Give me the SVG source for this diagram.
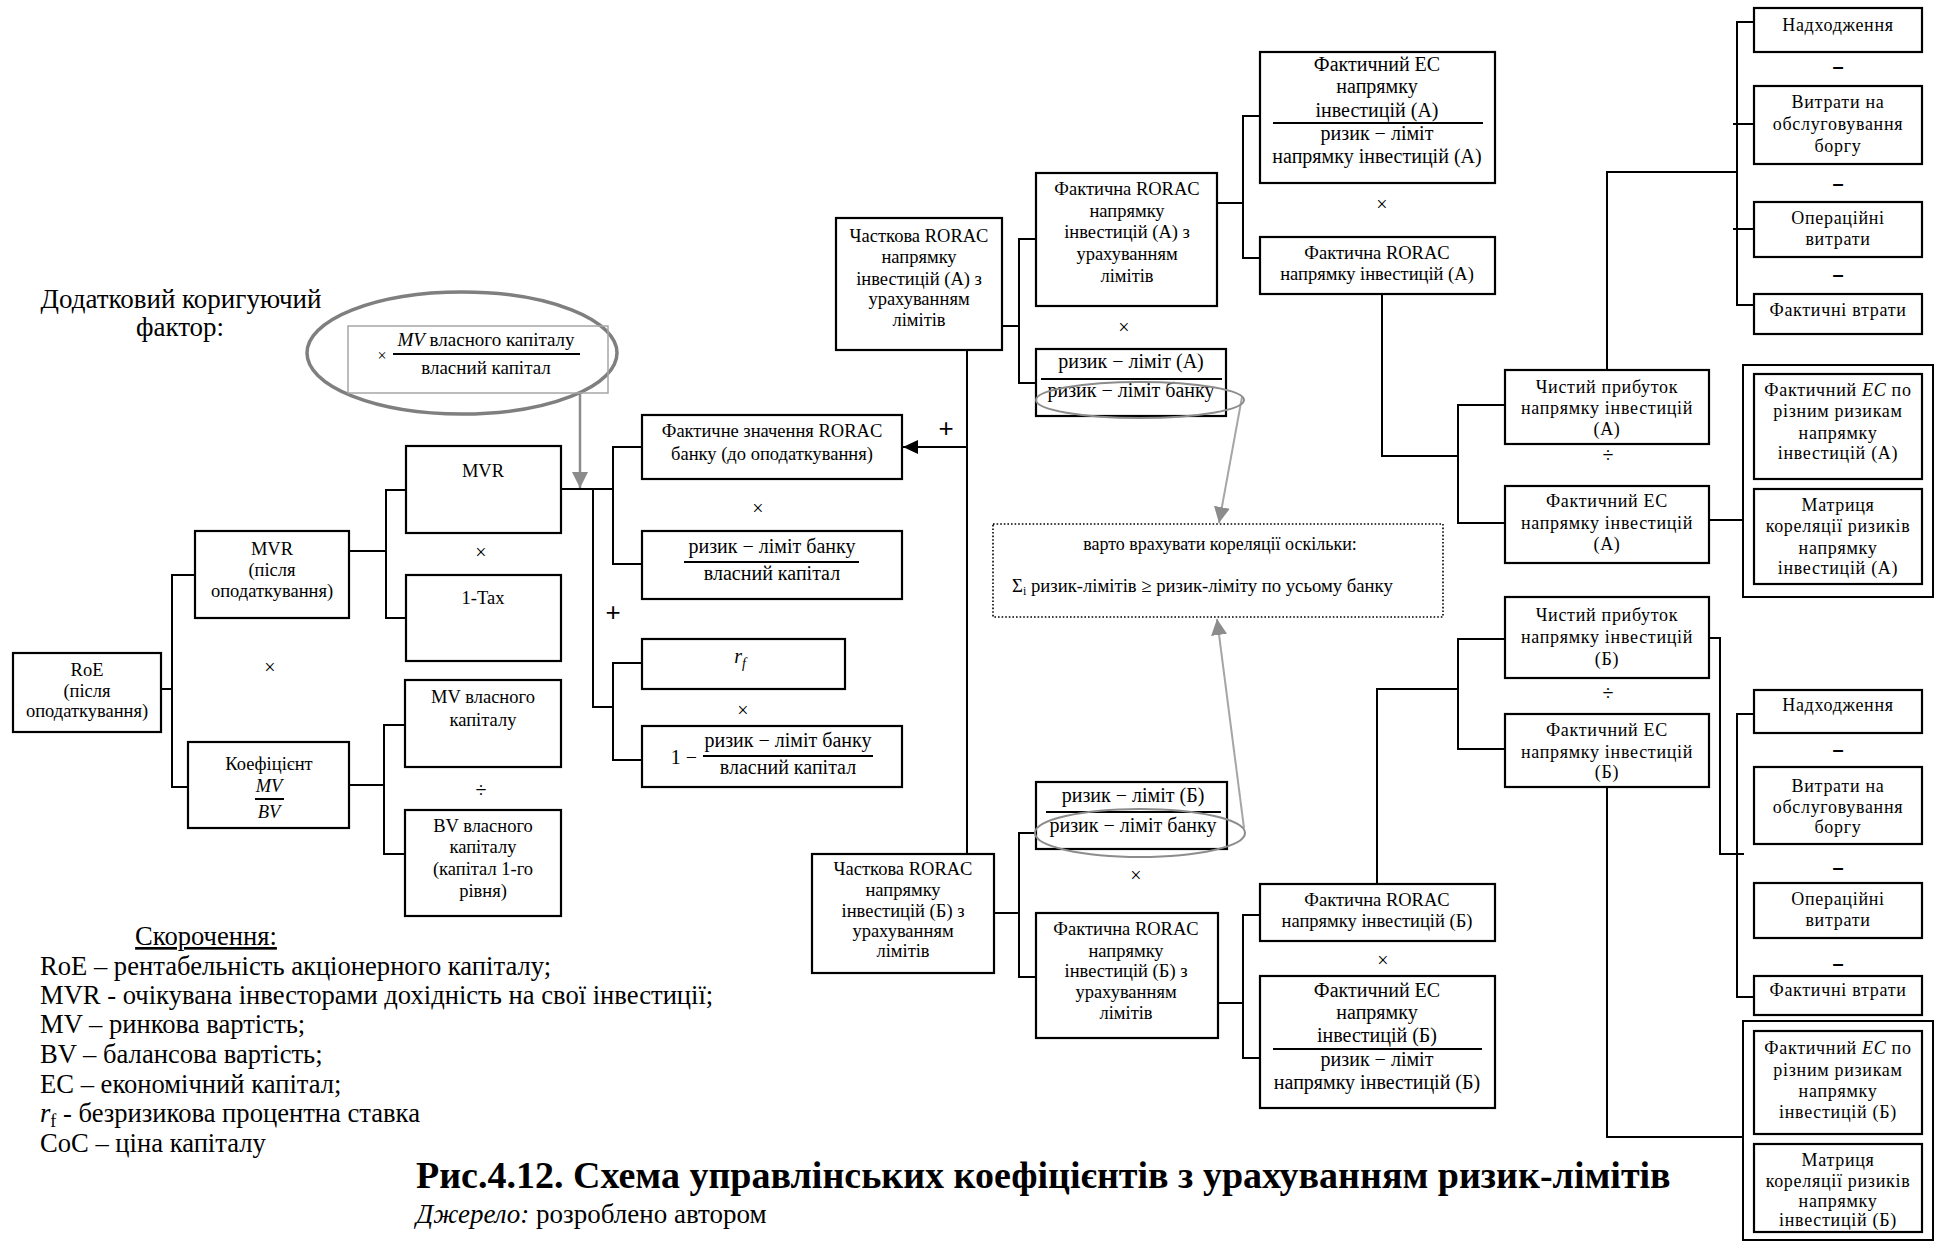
<svg xmlns="http://www.w3.org/2000/svg" width="1943" height="1247" viewBox="0 0 1943 1247">
<style>
  .box { fill: #fff; stroke: #000; stroke-width: 2.2; }
  .frame { fill: #fff; stroke: #000; stroke-width: 2; }
  .ln { fill: none; stroke: #000; stroke-width: 2; }
  .t { font-family: "Liberation Serif", "Times New Roman", serif; font-size: 18.5px; text-anchor: middle; fill: #000; }
  .tr { font-family: "Liberation Serif", "Times New Roman", serif; font-size: 18px; letter-spacing: 0.7px; text-anchor: middle; fill: #000; }
  .m { font-family: "Liberation Serif", "Times New Roman", serif; font-size: 20px; text-anchor: middle; fill: #000; }
  .op { font-family: "Liberation Serif", "Times New Roman", serif; font-size: 20px; text-anchor: middle; dominant-baseline: central; fill: #000; }
  .plus { font-family: "Liberation Sans", Arial, sans-serif; font-size: 26px; text-anchor: middle; dominant-baseline: central; fill: #000; }
  .dash { font-family: "Liberation Sans", Arial, sans-serif; font-size: 20px; font-weight: bold; text-anchor: middle; dominant-baseline: central; fill: #000; }
  .fr { stroke: #000; stroke-width: 2; }
  .i { font-style: italic; }
  .leg { font-family: "Liberation Serif", "Times New Roman", serif; font-size: 26.6px; fill: #000; }
</style>
<defs>
  <marker id="blk" viewBox="0 0 10 10" refX="10" refY="5" markerWidth="15" markerHeight="14" markerUnits="userSpaceOnUse" orient="auto" preserveAspectRatio="none">
    <path d="M0,0 L10,5 L0,10 z" fill="#000"/>
  </marker>
  <marker id="gry" viewBox="0 0 10 10" refX="10" refY="5" markerWidth="16" markerHeight="16" markerUnits="userSpaceOnUse" orient="auto">
    <path d="M0,0 L10,5 L0,10 z" fill="#8c8c8c"/>
  </marker>
</defs>

<rect width="1943" height="1247" fill="#fff"/>

<!-- connectors -->
<g id="connectors">
  <!-- left tree -->
  <path class="ln" d="M161,689 H172 M195,575 H172 V787 H188"/>
  <path class="ln" d="M349,551 H386 M406,490 H386 V618 H406"/>
  <path class="ln" d="M349,785 H384 M405,725 H384 V854 H405"/>
  <path class="ln" d="M561,489 H613 M642,447 H613 V564 H642 M593,489 V707 H613 M642,663 H613 V760 H642"/>
  <!-- link into the bank RORAC node -->
  <path class="ln" d="M967,350 V854"/>
  <line class="ln" x1="967" y1="447" x2="903" y2="447" marker-end="url(#blk)"/>
  <!-- branch A -->
  <path class="ln" d="M1002,326 H1019 M1036,239 H1019 V383 H1036"/>
  <path class="ln" d="M1217,203 H1243 M1260,116 H1243 V258 H1260"/>
  <path class="ln" d="M1382,294 V456 H1458 M1505,405 H1458 V523 H1505"/>
  <path class="ln" d="M1607,370 V172 H1737 M1754,22 H1737 V305 H1754 M1733,124 H1754 M1733,229 H1754"/>
  <path class="ln" d="M1709,520 H1743"/>
  <!-- branch B -->
  <path class="ln" d="M994,913 H1019 M1036,833 H1019 V977 H1036"/>
  <path class="ln" d="M1218,1003 H1243 M1260,915 H1243 V1058 H1260"/>
  <path class="ln" d="M1377,884 V689 H1458 M1505,639 H1458 V749 H1505"/>
  <path class="ln" d="M1709,638 H1720 V854 H1744 M1754,714 H1737 V997 H1754"/>
  <path class="ln" d="M1607,787 V1137 H1743"/>
  <!-- grey notes -->
  <line x1="580" y1="393" x2="580" y2="488" stroke="#8c8c8c" stroke-width="2.5" marker-end="url(#gry)"/>
  <line x1="1242" y1="397" x2="1219" y2="523" stroke="#a6a6a6" stroke-width="2" marker-end="url(#gry)"/>
  <line x1="1244" y1="828" x2="1217" y2="619" stroke="#a6a6a6" stroke-width="2" marker-end="url(#gry)"/>
</g>

<!-- additional correcting factor -->
<g id="factor">
  <text class="t" x="181" y="308" style="font-size:27px">Додатковий коригуючий</text>
  <text class="t" x="180" y="336" style="font-size:27px">фактор:</text>
  <ellipse cx="462" cy="353" rx="155" ry="61" fill="none" stroke="#7f7f7f" stroke-width="3.5"/>
  <rect x="348" y="326" width="260" height="67" fill="none" stroke="#a6a6a6" stroke-width="1.5"/>
  <text class="m" x="382" y="361" style="font-size:16px">×</text>
  <text class="m" x="486" y="346" style="font-size:19px"><tspan class="i">MV</tspan> власного капіталу</text>
  <line class="fr" x1="393" y1="354" x2="580" y2="354"/>
  <text class="m" x="486" y="374" style="font-size:19px">власний капітал</text>
</g>

<!-- left nodes -->
<g id="roe">
  <rect class="box" x="13" y="653" width="148" height="79"/>
  <text class="t" x="87" y="676">RoE</text>
  <text class="t" x="87" y="697">(після</text>
  <text class="t" x="87" y="717">оподаткування)</text>
</g>
<g id="mvr-after-tax">
  <rect class="box" x="195" y="531" width="154" height="87"/>
  <text class="t" x="272" y="555">MVR</text>
  <text class="t" x="272" y="576">(після</text>
  <text class="t" x="272" y="597">оподаткування)</text>
</g>
<g id="mv-bv">
  <rect class="box" x="188" y="742" width="161" height="86"/>
  <text class="t" x="269" y="770">Коефіцієнт</text>
  <text class="t i" x="269" y="792">MV</text>
  <line class="fr" x1="255" y1="799" x2="284" y2="799"/>
  <text class="t i" x="269" y="818">BV</text>
</g>
<g id="mvr">
  <rect class="box" x="406" y="446" width="155" height="87"/>
  <text class="t" x="483" y="477">MVR</text>
</g>
<g id="tax">
  <rect class="box" x="406" y="575" width="155" height="86"/>
  <text class="t" x="483" y="604">1-Tax</text>
</g>
<g id="mv-equity">
  <rect class="box" x="405" y="680" width="156" height="87"/>
  <text class="t" x="483" y="703">MV власного</text>
  <text class="t" x="483" y="726">капіталу</text>
</g>
<g id="bv-equity">
  <rect class="box" x="405" y="810" width="156" height="106"/>
  <text class="t" x="483" y="832">BV власного</text>
  <text class="t" x="483" y="853">капіталу</text>
  <text class="t" x="483" y="875">(капітал 1-го</text>
  <text class="t" x="483" y="897">рівня)</text>
</g>
<g id="ops-left">
  <text class="op" x="481" y="552">×</text>
  <text class="op" x="270" y="667">×</text>
  <text class="op" x="481" y="790">÷</text>
  <text class="op" x="758" y="508">×</text>
  <text class="plus" x="613" y="612">+</text>
  <text class="op" x="743" y="710">×</text>
  <text class="plus" x="946" y="428">+</text>
</g>

<!-- bank RORAC group -->
<g id="bank-rorac">
  <rect class="box" x="642" y="415" width="260" height="64"/>
  <text class="t" x="772" y="437">Фактичне значення RORAC</text>
  <text class="t" x="772" y="460">банку (до оподаткування)</text>
</g>
<g id="bank-limit-ratio">
  <rect class="box" x="642" y="531" width="260" height="68"/>
  <text class="m" x="772" y="553">ризик − ліміт  банку</text>
  <line class="fr" x1="684" y1="562" x2="859" y2="562"/>
  <text class="m" x="772" y="580">власний капітал</text>
</g>
<g id="rf">
  <rect class="box" x="642" y="639" width="203" height="50"/>
  <text class="m i" x="740" y="663">r<tspan dy="5" font-size="14">f</tspan></text>
</g>
<g id="one-minus">
  <rect class="box" x="642" y="726" width="260" height="61"/>
  <text class="m" x="684" y="764">1 −</text>
  <text class="m" x="788" y="747">ризик − ліміт банку</text>
  <line class="fr" x1="703" y1="756" x2="873" y2="756"/>
  <text class="m" x="788" y="774">власний капітал</text>
</g>

<!-- correlation note -->
<g id="note">
  <rect x="993" y="524" width="450" height="93" fill="#fff" stroke="#000" stroke-width="1.6" stroke-dasharray="1.6 2"/>
  <text class="t" x="1220" y="550" style="font-size:18px">варто врахувати кореляції оскільки:</text>
  <text class="t" x="1012" y="592" style="font-size:18.7px;text-anchor:start">Σ<tspan dy="3" font-size="12">i</tspan><tspan dy="-3"> ризик-лімітів ≥ ризик-ліміту по усьому банку</tspan></text>
</g>

<!-- branch A -->
<g id="partial-a">
  <rect class="box" x="836" y="218" width="166" height="132"/>
  <text class="t" x="919" y="242">Часткова RORAC</text>
  <text class="t" x="919" y="263">напрямку</text>
  <text class="t" x="919" y="285">інвестицій  (А) з</text>
  <text class="t" x="919" y="305">урахуванням</text>
  <text class="t" x="919" y="326">лімітів</text>
</g>
<g id="actual-lim-a">
  <rect class="box" x="1036" y="173" width="181" height="133"/>
  <text class="t" x="1127" y="195">Фактична RORAC</text>
  <text class="t" x="1127" y="217">напрямку</text>
  <text class="t" x="1127" y="238">інвестицій  (А) з</text>
  <text class="t" x="1127" y="260">урахуванням</text>
  <text class="t" x="1127" y="282">лімітів</text>
</g>
<g id="limit-ratio-a">
  <rect class="box" x="1036" y="349" width="190" height="67"/>
  <text class="m" x="1131" y="368">ризик − ліміт  (А)</text>
  <line class="fr" x1="1041" y1="379" x2="1222" y2="379"/>
  <text class="m" x="1131" y="397">ризик − ліміт  банку</text>
  <ellipse cx="1140" cy="400" rx="104" ry="18" fill="none" stroke="#8c8c8c" stroke-width="2"/>
</g>
<g id="ec-ratio-a">
  <rect class="box" x="1260" y="52" width="235" height="131"/>
  <text class="m" x="1377" y="71">Фактичний ЕС</text>
  <text class="m" x="1377" y="93">напрямку</text>
  <text class="m" x="1377" y="117">інвестицій (А)</text>
  <line class="fr" x1="1273" y1="123" x2="1483" y2="123"/>
  <text class="m" x="1377" y="140">ризик − ліміт</text>
  <text class="m" x="1377" y="163">напрямку інвестицій (А)</text>
</g>
<g id="actual-a">
  <rect class="box" x="1260" y="237" width="235" height="57"/>
  <text class="t" x="1377" y="259">Фактична RORAC</text>
  <text class="t" x="1377" y="280">напрямку інвестицій  (А)</text>
</g>
<g id="ops-a">
  <text class="op" x="1124" y="327">×</text>
  <text class="op" x="1382" y="204">×</text>
  <text class="op" x="1608" y="455">÷</text>
  <text class="dash" x="1838" y="66">–</text>
  <text class="dash" x="1838" y="183">–</text>
  <text class="dash" x="1838" y="274">–</text>
</g>
<g id="profit-a">
  <rect class="box" x="1505" y="370" width="204" height="74"/>
  <text class="tr" x="1607" y="393">Чистий прибуток</text>
  <text class="tr" x="1607" y="414">напрямку інвестицій</text>
  <text class="tr" x="1607" y="435">(А)</text>
</g>
<g id="ec-a">
  <rect class="box" x="1505" y="486" width="204" height="77"/>
  <text class="tr" x="1607" y="507">Фактичний ЕС</text>
  <text class="tr" x="1607" y="529">напрямку інвестицій</text>
  <text class="tr" x="1607" y="550">(А)</text>
</g>
<g id="income-a">
  <rect class="box" x="1754" y="8" width="168" height="44"/>
  <text class="tr" x="1838" y="31">Надходження</text>
</g>
<g id="debt-a">
  <rect class="box" x="1754" y="86" width="168" height="78"/>
  <text class="tr" x="1838" y="108">Витрати на</text>
  <text class="tr" x="1838" y="130">обслуговування</text>
  <text class="tr" x="1838" y="152">боргу</text>
</g>
<g id="opex-a">
  <rect class="box" x="1754" y="202" width="168" height="55"/>
  <text class="tr" x="1838" y="224">Операційні</text>
  <text class="tr" x="1838" y="245">витрати</text>
</g>
<g id="loss-a">
  <rect class="box" x="1754" y="294" width="168" height="40"/>
  <text class="tr" x="1838" y="316">Фактичні втрати</text>
</g>
<g id="ec-parts-a">
  <rect class="frame" x="1743" y="365" width="190" height="232"/>
  <rect class="box" x="1754" y="374" width="168" height="105"/>
  <text class="tr" x="1838" y="396">Фактичний <tspan class="i">EC</tspan> по</text>
  <text class="tr" x="1838" y="417">різним ризикам</text>
  <text class="tr" x="1838" y="439">напрямку</text>
  <text class="tr" x="1838" y="459">інвестицій  (А)</text>
  <rect class="box" x="1754" y="489" width="168" height="95"/>
  <text class="tr" x="1838" y="511">Матриця</text>
  <text class="tr" x="1838" y="532">кореляції ризиків</text>
  <text class="tr" x="1838" y="554">напрямку</text>
  <text class="tr" x="1838" y="574">інвестицій  (А)</text>
</g>

<!-- branch B -->
<g id="partial-b">
  <rect class="box" x="812" y="854" width="182" height="119"/>
  <text class="t" x="903" y="875">Часткова RORAC</text>
  <text class="t" x="903" y="896">напрямку</text>
  <text class="t" x="903" y="917">інвестицій  (Б) з</text>
  <text class="t" x="903" y="937">урахуванням</text>
  <text class="t" x="903" y="957">лімітів</text>
</g>
<g id="limit-ratio-b">
  <rect class="box" x="1036" y="782" width="191" height="67"/>
  <text class="m" x="1133" y="802">ризик − ліміт  (Б)</text>
  <line class="fr" x1="1046" y1="812" x2="1221" y2="812"/>
  <text class="m" x="1133" y="832">ризик − ліміт  банку</text>
  <ellipse cx="1140" cy="833" rx="105" ry="24" fill="none" stroke="#8c8c8c" stroke-width="2"/>
</g>
<g id="actual-lim-b">
  <rect class="box" x="1036" y="913" width="182" height="125"/>
  <text class="t" x="1126" y="935">Фактична RORAC</text>
  <text class="t" x="1126" y="957">напрямку</text>
  <text class="t" x="1126" y="977">інвестицій  (Б) з</text>
  <text class="t" x="1126" y="998">урахуванням</text>
  <text class="t" x="1126" y="1019">лімітів</text>
</g>
<g id="actual-b">
  <rect class="box" x="1260" y="884" width="235" height="57"/>
  <text class="t" x="1377" y="906">Фактична RORAC</text>
  <text class="t" x="1377" y="927">напрямку інвестицій  (Б)</text>
</g>
<g id="ec-ratio-b">
  <rect class="box" x="1260" y="976" width="235" height="132"/>
  <text class="m" x="1377" y="997">Фактичний ЕС</text>
  <text class="m" x="1377" y="1019">напрямку</text>
  <text class="m" x="1377" y="1042">інвестицій (Б)</text>
  <line class="fr" x1="1273" y1="1049" x2="1482" y2="1049"/>
  <text class="m" x="1377" y="1066">ризик − ліміт</text>
  <text class="m" x="1377" y="1089">напрямку інвестицій (Б)</text>
</g>
<g id="ops-b">
  <text class="op" x="1136" y="875">×</text>
  <text class="op" x="1383" y="960">×</text>
  <text class="op" x="1608" y="693">÷</text>
  <text class="dash" x="1838" y="749">–</text>
  <text class="dash" x="1838" y="867">–</text>
  <text class="dash" x="1838" y="963">–</text>
</g>
<g id="profit-b">
  <rect class="box" x="1505" y="597" width="204" height="81"/>
  <text class="tr" x="1607" y="621">Чистий прибуток</text>
  <text class="tr" x="1607" y="643">напрямку інвестицій</text>
  <text class="tr" x="1607" y="665">(Б)</text>
</g>
<g id="ec-b">
  <rect class="box" x="1505" y="714" width="204" height="73"/>
  <text class="tr" x="1607" y="736">Фактичний ЕС</text>
  <text class="tr" x="1607" y="758">напрямку інвестицій</text>
  <text class="tr" x="1607" y="778">(Б)</text>
</g>
<g id="income-b">
  <rect class="box" x="1754" y="690" width="168" height="43"/>
  <text class="tr" x="1838" y="711">Надходження</text>
</g>
<g id="debt-b">
  <rect class="box" x="1754" y="767" width="168" height="77"/>
  <text class="tr" x="1838" y="792">Витрати на</text>
  <text class="tr" x="1838" y="813">обслуговування</text>
  <text class="tr" x="1838" y="833">боргу</text>
</g>
<g id="opex-b">
  <rect class="box" x="1754" y="883" width="168" height="55"/>
  <text class="tr" x="1838" y="905">Операційні</text>
  <text class="tr" x="1838" y="926">витрати</text>
</g>
<g id="loss-b">
  <rect class="box" x="1754" y="976" width="168" height="39"/>
  <text class="tr" x="1838" y="996">Фактичні втрати</text>
</g>
<g id="ec-parts-b">
  <rect class="frame" x="1743" y="1021" width="190" height="219"/>
  <rect class="box" x="1754" y="1031" width="168" height="103"/>
  <text class="tr" x="1838" y="1054">Фактичний <tspan class="i">EC</tspan> по</text>
  <text class="tr" x="1838" y="1076">різним ризикам</text>
  <text class="tr" x="1838" y="1097">напрямку</text>
  <text class="tr" x="1838" y="1118">інвестицій  (Б)</text>
  <rect class="box" x="1754" y="1144" width="168" height="88"/>
  <text class="tr" x="1838" y="1166">Матриця</text>
  <text class="tr" x="1838" y="1187">кореляції ризиків</text>
  <text class="tr" x="1838" y="1207">напрямку</text>
  <text class="tr" x="1838" y="1226">інвестицій  (Б)</text>
</g>

<!-- abbreviations -->
<g id="legend">
  <text class="leg" x="206" y="945" text-anchor="middle" text-decoration="underline">Скорочення:</text>
  <text class="leg" x="40" y="975">RoE – рентабельність акціонерного капіталу;</text>
  <text class="leg" x="40" y="1004">MVR - очікувана інвесторами дохідність на свої інвестиції;</text>
  <text class="leg" x="40" y="1033">MV – ринкова вартість;</text>
  <text class="leg" x="40" y="1063">BV – балансова вартість;</text>
  <text class="leg" x="40" y="1093">EC – економічний капітал;</text>
  <text class="leg" x="40" y="1122"><tspan class="i">r</tspan><tspan dy="5" font-size="18">f</tspan><tspan dy="-5"> -  безризикова процентна ставка</tspan></text>
  <text class="leg" x="40" y="1152">CoC – ціна капіталу</text>
</g>

<!-- caption -->
<g id="caption">
  <text x="416" y="1188" style="font-family:'Liberation Serif','Times New Roman',serif;font-size:38px;font-weight:bold">Рис.4.12. Схема управлінських коефіцієнтів з урахуванням ризик-лімітів</text>
  <text class="leg" x="416" y="1223" style="font-size:27px"><tspan class="i">Джерело:</tspan> розроблено автором</text>
</g>
</svg>
